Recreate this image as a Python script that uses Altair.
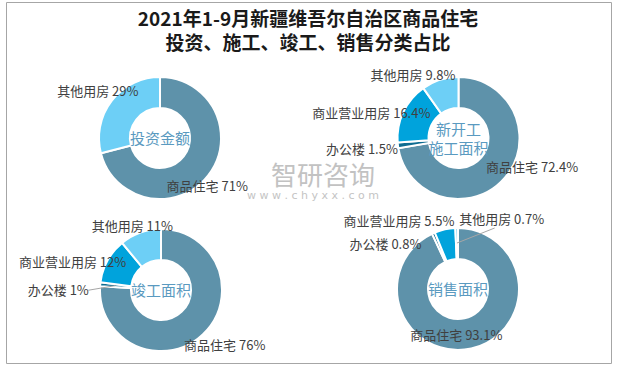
import altair as alt
import pandas as pd

# ---------------- data ----------------
TITLE_LINES = ["2021年1-9月新疆维吾尔自治区商品住宅", "投资、施工、竣工、销售分类占比"]
CHARTS = ["投资金额", "新开工施工面积", "竣工面积", "销售面积"]
CENTER_TEXT = ["投资金额", "新开工\n施工面积", "竣工面积", "销售面积"]
CATEGORIES = ["商品住宅", "办公楼", "商业营业用房", "其他用房"]
INVEST = [71, None, None, 29]
NEW_START = [72.4, 1.5, 16.4, 9.8]
COMPLETED = [76, 1, 12, 11]
SALES = [93.1, 0.8, 5.5, 0.7]
SERIES = [INVEST, NEW_START, COMPLETED, SALES]
WATERMARK = ["智研咨询", "w w w . c h y x x . c o m"]

# ---------------- layout / style ----------------
FONT = "Noto Sans CJK SC"
COLORS = ["#5E92AA", "#0E6C91", "#00A3DC", "#6DCFF6"]
CENTERS = [(154, 136), (452.5, 136), (155, 288), (452, 287)]
OUTER, INNER = 61, 30
CENTER_LINE_H = 19
# manual label nudges (pixels) relative to the slice's outer-edge midpoint
LABEL_NUDGE = {
    (0, "商品住宅"): (-1, 12), (0, "其他用房"): (-14, -9),
    (1, "商品住宅"): (27, -9), (1, "办公楼"): (-36, 5), (1, "商业营业用房"): (-32, 2), (1, "其他用房"): (-27, -4),
    (2, "商品住宅"): (22, 12), (2, "办公楼"): (-42, 7), (2, "商业营业用房"): (-35, 2), (2, "其他用房"): (-8, -6),
    (3, "商品住宅"): (-15, -13), (3, "办公楼"): (-48, 12), (3, "商业营业用房"): (-46, -7), (3, "其他用房"): (45, -8),
}
# leader line end, relative to label centre
LEADERS = {(2, "办公楼"): (30, -1), (3, "其他用房"): (-7, 8)}

rows = []
for ci, (name, vals) in enumerate(zip(CHARTS, SERIES)):
    for k, (cat, v) in enumerate(zip(CATEGORIES, vals)):
        if v is None:
            continue
        ndx, ndy = LABEL_NUDGE[(ci, cat)]
        lex, ley = LEADERS.get((ci, cat), (0, 0))
        rows.append(dict(chart=name, category=cat, idx=k, value=v,
                         label=f"{cat} {v:g}%", ndx=ndx, ndy=ndy,
                         leader=1 if (ci, cat) in LEADERS else 0, lex=lex, ley=ley))
df = pd.DataFrame(rows)

base = alt.Chart(df)
layers = []

# watermark
wm = pd.DataFrame({"t": WATERMARK})
layers.append(alt.Chart(wm).transform_filter(alt.datum.t == WATERMARK[0]).mark_text(
    font=FONT, fontSize=26, color="#B8B8B8", opacity=0.85).encode(
    text="t:N", x=alt.value(317), y=alt.value(175)))
layers.append(alt.Chart(wm).transform_filter(alt.datum.t == WATERMARK[1]).mark_text(
    font="DejaVu Sans", fontSize=11, color="#C4C4C4").encode(
    text="t:N", x=alt.value(307), y=alt.value(194)))

for ci, name in enumerate(CHARTS):
    cx, cy = CENTERS[ci]
    d = base.transform_filter(alt.datum.chart == name)
    layers.append(d.mark_arc(innerRadius=INNER, outerRadius=OUTER, stroke="white", strokeWidth=2).encode(
        theta=alt.Theta("value:Q", stack=True),
        color=alt.Color("category:N", scale=alt.Scale(domain=CATEGORIES, range=COLORS), legend=None),
        order=alt.Order("idx:Q"),
        x=alt.value(cx), y=alt.value(cy)))
    # leader lines
    ll = (d.transform_window(cum="sum(value)", sort=[alt.SortField("idx")], frame=[None, 0])
          .transform_joinaggregate(total="sum(value)")
          .transform_filter(alt.datum.leader == 1)
          .transform_calculate(a="2*PI*(datum.cum - datum.value/2)/datum.total")
          .transform_calculate(lx1=f"{cx}+46*sin(datum.a)")
          .transform_calculate(ly1=f"{cy}-46*cos(datum.a)")
          .transform_calculate(lx2=f"{cx}+{OUTER}*sin(datum.a)+datum.ndx+datum.lex")
          .transform_calculate(ly2=f"{cy}-{OUTER}*cos(datum.a)+datum.ndy+datum.ley"))
    layers.append(ll.mark_rule(color="#A6A6A6", strokeWidth=1).encode(
        x=alt.X("lx1:Q", scale=None, axis=None), y=alt.Y("ly1:Q", scale=None, axis=None),
        x2="lx2:Q", y2="ly2:Q"))
    layers.append(d.mark_text(radius=OUTER, font=FONT, fontSize=13, color="#404040",
                              align="center", baseline="middle",
                              dx={"expr": "datum.ndx"}, dy={"expr": "datum.ndy"}).encode(
        theta=alt.Theta("value:Q", stack=True),
        order=alt.Order("idx:Q"),
        text="label:N",
        x=alt.value(cx), y=alt.value(cy)))
    ctext = CENTER_TEXT[ci]
    n_extra = ctext.count("\n")
    ct = pd.DataFrame({"t": [ctext]})
    layers.append(alt.Chart(ct).mark_text(font=FONT, fontSize=15, color="#5A9AC0", lineBreak="\n",
                                          lineHeight=CENTER_LINE_H, baseline="middle").encode(
        text="t:N", x=alt.value(cx), y=alt.value(cy + 1 - n_extra * CENTER_LINE_H / 2)))

tt = pd.DataFrame({"t": TITLE_LINES, "line": [0, 1]})
for i in range(2):
    layers.append(alt.Chart(tt).transform_filter(alt.datum.line == i).mark_text(
        font=FONT, fontSize=19, fontWeight="bold", color="#1A1A1A").encode(
        text="t:N", x=alt.value(302), y=alt.value(18 + 24 * i)))

chart = alt.layer(*layers).resolve_scale(theta="independent").properties(
    width=605, height=361, autosize="none",
    padding={"left": 6, "top": 2, "right": 10, "bottom": 4},
    background="white",
).configure_view(stroke="#A6A6A6", strokeWidth=1)

chart.save("out.html", embed_options={"renderer": "svg", "actions": False})
